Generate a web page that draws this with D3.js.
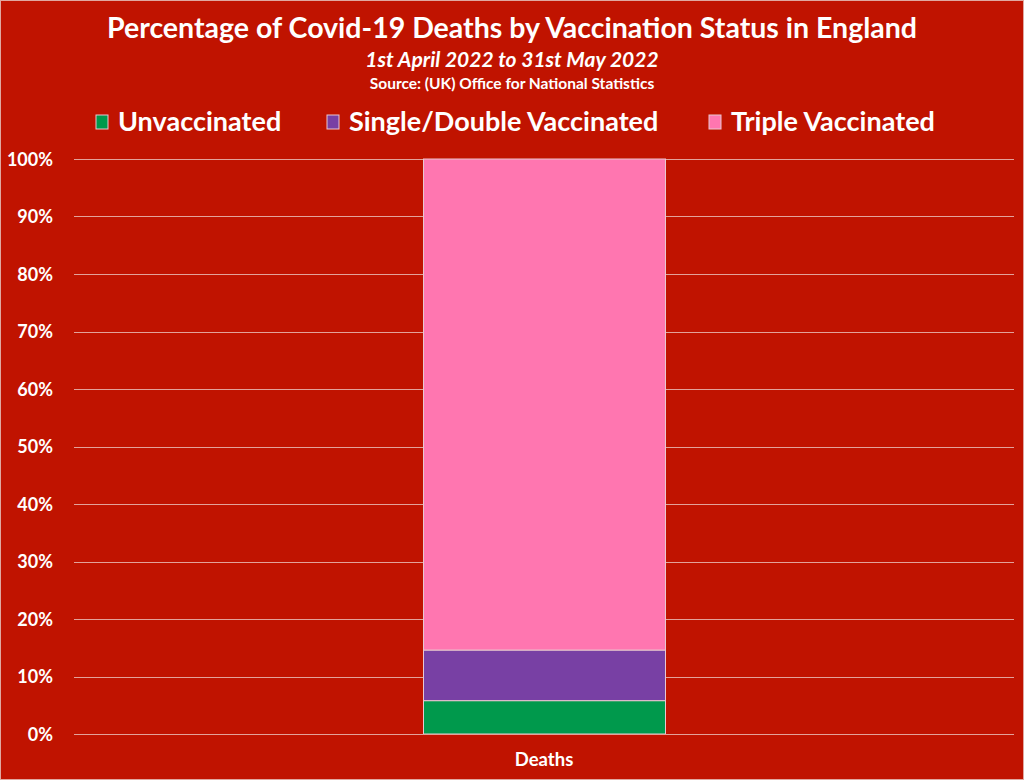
<!DOCTYPE html>
<html>
<head>
<meta charset="utf-8">
<script src="https://cdn.jsdelivr.net/npm/d3@7"></script>
<style>
  body { margin: 0; background: #c01300; }
  text { font-family: Lato, "Open Sans", sans-serif; font-weight: bold; fill: #fff; }
</style>
</head>
<body>
<script>
// Data
var categories = ["Deaths"];
var seriesNames = ["Unvaccinated", "Single/Double Vaccinated", "Triple Vaccinated"];
var unvaccinated = [5.8];
var singleDouble = [8.8];
var triple = [85.4];
var yTicks = [0, 10, 20, 30, 40, 50, 60, 70, 80, 90, 100];

var colors = ["#00994c", "#7840a4", "#ff76b0"];

var svgWidth = 1024;
var svgHeight = 780;
var margin = { top: 159, right: 10, bottom: 46, left: 74 };
var chartWidth = svgWidth - margin.left - margin.right;
var chartHeight = svgHeight - margin.top - margin.bottom;

var svg = d3.select("body").append("svg")
  .attr("width", svgWidth)
  .attr("height", svgHeight);

svg.append("rect")
  .attr("x", 0.5).attr("y", 0.5)
  .attr("width", svgWidth - 1).attr("height", svgHeight - 1)
  .attr("fill", "#c01300")
  .attr("stroke", "#e0a8a0");

// Titles
svg.append("text").attr("x", 512).attr("y", 38).attr("text-anchor", "middle")
  .style("font-size", "28.5px").text("Percentage of Covid-19 Deaths by Vaccination Status in England");
svg.append("text").attr("x", 512).attr("y", 67).attr("text-anchor", "middle")
  .style("font-size", "21px").style("font-style", "italic").text("1st April 2022 to 31st May 2022");
svg.append("text").attr("x", 512).attr("y", 89).attr("text-anchor", "middle")
  .style("font-size", "15.5px").text("Source: (UK) Office for National Statistics");

// Build the stacked table
var table = categories.map(function(c, i) {
  return { cat: c, s0: unvaccinated[i], s1: singleDouble[i], s2: triple[i] };
});
var stack = d3.stack().keys(["s0", "s1", "s2"])(table);

var chartGroup = svg.append("g")
  .attr("transform", "translate(" + margin.left + "," + margin.top + ")");

// one band spanning the plot; bar sits in the middle of it
var xScale = d3.scaleBand().domain(categories).range([0, chartWidth]).padding(0);
var bandW = xScale.bandwidth();
var barW = 242;

var yScale = d3.scaleLinear().domain([0, 100]).range([chartHeight, 0]);

// gridlines
chartGroup.selectAll(".grid").data(yTicks).enter().append("line")
  .attr("x1", 0).attr("x2", chartWidth)
  .attr("y1", function(d) { return Math.round(yScale(d)) + 0.5; })
  .attr("y2", function(d) { return Math.round(yScale(d)) + 0.5; })
  .attr("stroke", "#e3a29a").attr("stroke-width", 1);

// y axis labels
var yAxis = d3.axisLeft(yScale).tickValues(yTicks).tickSize(0).tickPadding(21)
  .tickFormat(function(d) { return d + "%"; });
var yg = chartGroup.append("g").call(yAxis);
yg.select(".domain").remove();
yg.selectAll("text").attr("dy", "0.35em").style("font-size", "18px").style("font-family", "Lato, sans-serif");

// bars
chartGroup.selectAll(".series").data(stack).enter().append("g")
  .attr("fill", function(d, i) { return colors[i]; })
  .selectAll("rect").data(function(d) { return d; }).enter().append("rect")
  .attr("x", function(d) { return xScale(d.data.cat) + (bandW - barW) / 2 + 0.5; })
  .attr("width", barW)
  .attr("y", function(d) { return yScale(d[1]); })
  .attr("height", function(d) { return yScale(d[0]) - yScale(d[1]); })
  .attr("stroke", "#e8c8d0").attr("stroke-width", 1);

// x axis
var xAxis = d3.axisBottom(xScale).tickSize(0).tickPadding(19);
var xg = chartGroup.append("g").attr("transform", "translate(0," + chartHeight + ")").call(xAxis);
xg.select(".domain").remove();
xg.selectAll("text").style("font-size", "18.5px").style("font-family", "Lato, sans-serif");
chartGroup.append("line")
  .attr("x1", 0).attr("x2", chartWidth)
  .attr("y1", chartHeight + 0.5).attr("y2", chartHeight + 0.5)
  .attr("stroke", "#e3a29a");

// legend
var legendX = [96, 327, 709];
var legend = svg.selectAll(".legend").data(seriesNames).enter().append("g")
  .attr("transform", function(d, i) { return "translate(" + legendX[i] + ",115)"; });
legend.append("rect").attr("width", 12).attr("height", 14)
  .attr("fill", function(d, i) { return colors[i]; })
  .attr("stroke", "#e8c8d0");
legend.append("text").attr("x", 22).attr("y", 16)
  .style("font-size", "27px").text(function(d) { return d; });
</script>
</body>
</html>
